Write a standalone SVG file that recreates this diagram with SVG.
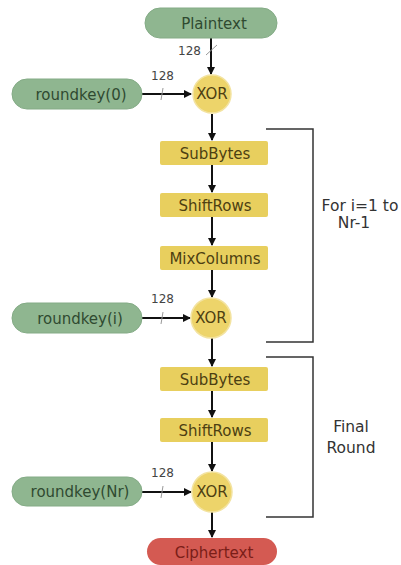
<svg xmlns="http://www.w3.org/2000/svg" width="401" height="565" viewBox="0 0 401 565">
<style>
.pill{fill:#8fb690;stroke:#84ab86;stroke-width:1}
.ptxt{fill:#2f4a30;font-family:"DejaVu Sans",sans-serif;font-size:15px;text-anchor:middle}
.box{fill:#e8cf5e}
.btxt{fill:#4d3f12;font-family:"DejaVu Sans",sans-serif;font-size:15px;text-anchor:middle}
.xor{fill:#edd46a;stroke:#f3e3a0;stroke-width:1.5}
.xtxt{fill:#4d3f12;font-family:"DejaVu Sans",sans-serif;font-size:15px;text-anchor:middle}
.red{fill:#d45a52}
.rtxt{fill:#7a1e18;font-family:"DejaVu Sans",sans-serif;font-size:15px;text-anchor:middle}
.arr{stroke:#111;stroke-width:2;fill:none;marker-end:url(#ah)}
.tick{stroke:#999;stroke-width:1}
.lbl{fill:#444;font-family:"DejaVu Sans",sans-serif;font-size:12px}
.brk{stroke:#333;stroke-width:1.5;fill:none}
.side{fill:#333;font-family:"DejaVu Sans",sans-serif;font-size:15.5px;text-anchor:middle}
</style>
<defs>
<marker id="ah" markerWidth="8" markerHeight="8" refX="7" refY="4" orient="auto" markerUnits="userSpaceOnUse">
<path d="M0,0 L8,4 L0,8 Z" fill="#111"/>
</marker>
</defs>
<g id="connectors">
<path class="arr" d="M211,38 V74"/>
<path class="tick" d="M206,55 L217,45"/>
<text class="lbl" x="178" y="55">128</text>
<path class="arr" d="M142,94 H191"/>
<path class="tick" d="M161,100 L163,88"/>
<text class="lbl" x="151" y="80">128</text>
<path class="arr" d="M212,114 V140"/>
<path class="arr" d="M212,165 V192"/>
<path class="arr" d="M212,217 V245"/>
<path class="arr" d="M212,270 V297"/>
<path class="arr" d="M142,318 H190"/>
<path class="tick" d="M161,324 L163,312"/>
<text class="lbl" x="151" y="303">128</text>
<path class="arr" d="M212,338 V366"/>
<path class="arr" d="M212,391 V417"/>
<path class="arr" d="M212,442 V471"/>
<path class="arr" d="M142,492 H191"/>
<path class="tick" d="M161,498 L163,486"/>
<text class="lbl" x="151" y="477">128</text>
<path class="arr" d="M212,512 V537"/>
</g>
<g id="brackets">
<path class="brk" d="M266,129 H313 V342 H266"/>
<path class="brk" d="M266,357 H313 V517 H266"/>
<text class="side" x="360" y="211">For i=1 to</text>
<text class="side" x="354" y="228">Nr-1</text>
<text class="side" x="351" y="432">Final</text>
<text class="side" x="351" y="453">Round</text>
</g>
<g id="plaintext"><rect class="pill" x="145" y="8" width="132" height="30" rx="15"/><text class="ptxt" x="214" y="28.5">Plaintext</text></g>
<g id="roundkey0"><rect class="pill" x="12" y="79" width="130" height="30" rx="15"/><text class="ptxt" x="81" y="99.5">roundkey(0)</text></g>
<g id="xor1"><circle class="xor" cx="212" cy="94" r="19"/><text class="xtxt" x="212" y="99">XOR</text></g>
<g id="subbytes1"><rect class="box" x="160" y="141" width="108" height="24" rx="2"/><text class="btxt" x="215" y="158.5">SubBytes</text></g>
<g id="shiftrows1"><rect class="box" x="160" y="193" width="108" height="24" rx="2"/><text class="btxt" x="215" y="210.5">ShiftRows</text></g>
<g id="mixcolumns"><rect class="box" x="160" y="246" width="108" height="24" rx="2"/><text class="btxt" x="215" y="263.5">MixColumns</text></g>
<g id="roundkeyi"><rect class="pill" x="12" y="303" width="130" height="30" rx="15"/><text class="ptxt" x="80" y="323.5">roundkey(i)</text></g>
<g id="xor2"><circle class="xor" cx="211" cy="318" r="20"/><text class="xtxt" x="211" y="323">XOR</text></g>
<g id="subbytes2"><rect class="box" x="160" y="367" width="108" height="24" rx="2"/><text class="btxt" x="215" y="384.5">SubBytes</text></g>
<g id="shiftrows2"><rect class="box" x="160" y="418" width="108" height="24" rx="2"/><text class="btxt" x="215" y="435.5">ShiftRows</text></g>
<g id="roundkeyNr"><rect class="pill" x="12" y="477" width="130" height="29" rx="14.5"/><text class="ptxt" x="80" y="497">roundkey(Nr)</text></g>
<g id="xor3"><circle class="xor" cx="212" cy="492" r="20"/><text class="xtxt" x="212" y="497">XOR</text></g>
<g id="ciphertext"><rect class="red" x="147" y="538" width="130" height="27" rx="13.5"/><text class="rtxt" x="214" y="557.5">Ciphertext</text></g>
</svg>
